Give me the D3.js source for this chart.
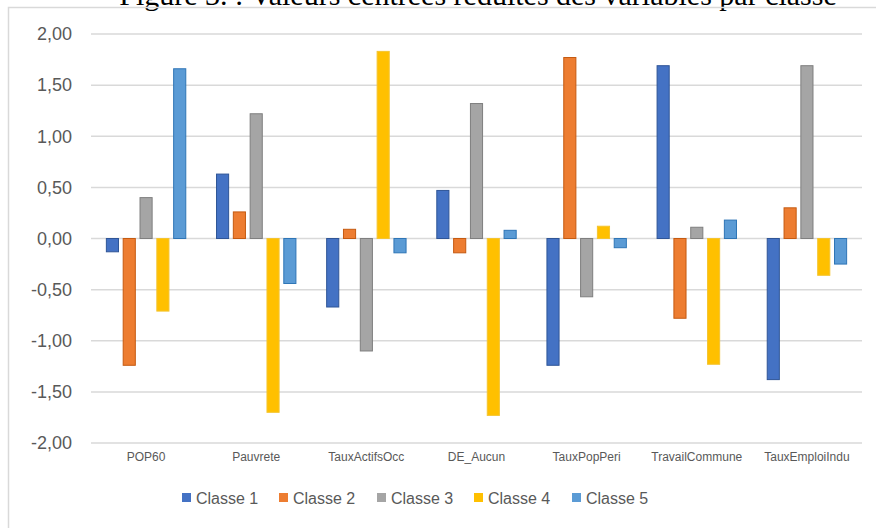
<!DOCTYPE html>
<html>
<head>
<meta charset="utf-8">
<script src="https://cdn.jsdelivr.net/npm/d3@7"></script>
<style>
  html, body { margin: 0; padding: 0; background: #fff; }
  svg { display: block; }
</style>
</head>
<body>
<svg id="chart" width="876" height="528"></svg>
<script>
const title = "Figure 3. : Valeurs centrées réduites des variables par classe";
const categories = ["POP60", "Pauvrete", "TauxActifsOcc", "DE_Aucun", "TauxPopPeri", "TravailCommune", "TauxEmploiIndu"];
const seriesNames = ["Classe 1", "Classe 2", "Classe 3", "Classe 4", "Classe 5"];
const classe1 = [-0.13, 0.63, -0.67, 0.47, -1.24, 1.69, -1.38];
const classe2 = [-1.24, 0.26, 0.09, -0.14, 1.77, -0.78, 0.30];
const classe3 = [0.40, 1.22, -1.10, 1.32, -0.57, 0.11, 1.69];
const classe4 = [-0.71, -1.70, 1.83, -1.73, 0.12, -1.23, -0.36];
const classe5 = [1.66, -0.44, -0.14, 0.08, -0.09, 0.18, -0.25];
const yTicks = [-2, -1.5, -1, -0.5, 0, 0.5, 1, 1.5, 2];
const colors = ["#4472C4", "#ED7D31", "#A5A5A5", "#FFC000", "#5B9BD5"];
const strokes = ["#2F5597", "#C55A11", "#7F7F7F", "#F4C430", "#2E75B6"];

const allSeries = [classe1, classe2, classe3, classe4, classe5];
const svg = d3.select("#chart");

// cropped title at the very top (as in the reference, only its lower part shows)
svg.append("text")
  .attr("x", 478).attr("y", 5)
  .attr("text-anchor", "middle")
  .attr("font-family", "'Liberation Serif', serif")
  .attr("font-size", 30)
  .attr("fill", "#000")
  .text(title);

// chart frame
svg.append("path")
  .attr("d", "M8.5,528 L8.5,7.5 L876,7.5")
  .attr("fill", "none")
  .attr("stroke", "#D9D9D9")
  .attr("stroke-width", 1.5);

const plotLeft = 91, plotRight = 862, plotTop = 34, plotBottom = 443;

const y = d3.scaleLinear().domain([-2, 2]).range([plotBottom, plotTop]);
const x0 = d3.scaleBand().domain(categories).range([plotLeft, plotRight])
  .paddingInner(0.27).paddingOuter(0.135);
const x1 = d3.scaleBand().domain(seriesNames).range([0, x0.bandwidth()])
  .paddingInner(0.22).paddingOuter(0);

const fmt = v => d3.format(".2f")(v).replace(".", ",").replace("−", "-");

// gridlines
svg.append("g").selectAll("line").data(yTicks).join("line")
  .attr("x1", plotLeft).attr("x2", plotRight)
  .attr("y1", d => y(d)).attr("y2", d => y(d))
  .attr("stroke", "#D9D9D9").attr("stroke-width", 1.5);

// y labels
svg.append("g").selectAll("text").data(yTicks).join("text")
  .attr("x", 72).attr("y", d => y(d))
  .attr("dy", "0.35em")
  .attr("text-anchor", "end")
  .attr("font-family", "'Liberation Sans', Arial, sans-serif")
  .attr("font-size", 18)
  .attr("fill", "#595959")
  .text(fmt);

// bars
const groups = svg.append("g").selectAll("g").data(categories).join("g")
  .attr("transform", c => `translate(${x0(c)},0)`);

groups.selectAll("rect")
  .data((c, ci) => seriesNames.map((s, si) => ({ s, si, v: allSeries[si][ci] })))
  .join("rect")
  .attr("x", d => x1(d.s) + 0.5)
  .attr("width", x1.bandwidth() - 1)
  .attr("y", d => Math.min(y(d.v), y(0)))
  .attr("height", d => Math.abs(y(d.v) - y(0)))
  .attr("fill", d => colors[d.si])
  .attr("stroke", d => strokes[d.si])
  .attr("stroke-width", 1);

// category labels
svg.append("g").selectAll("text").data(categories).join("text")
  .attr("x", c => x0(c) + x0.bandwidth() / 2)
  .attr("y", 461)
  .attr("text-anchor", "middle")
  .attr("font-family", "'Liberation Sans', Arial, sans-serif")
  .attr("font-size", 12)
  .attr("fill", "#595959")
  .text(c => c);

// legend
const legendX = [182, 279, 377, 474, 572];
const lg = svg.append("g").selectAll("g").data(seriesNames).join("g")
  .attr("transform", (d, i) => `translate(${legendX[i]},498)`);
lg.append("rect")
  .attr("x", 0).attr("y", -5).attr("width", 9).attr("height", 9)
  .attr("fill", (d, i) => colors[i]);
lg.append("text")
  .attr("x", 14).attr("y", 0).attr("dy", "0.35em")
  .attr("font-family", "'Liberation Sans', Arial, sans-serif")
  .attr("font-size", 16)
  .attr("fill", "#595959")
  .text(d => d);
</script>
</body>
</html>
